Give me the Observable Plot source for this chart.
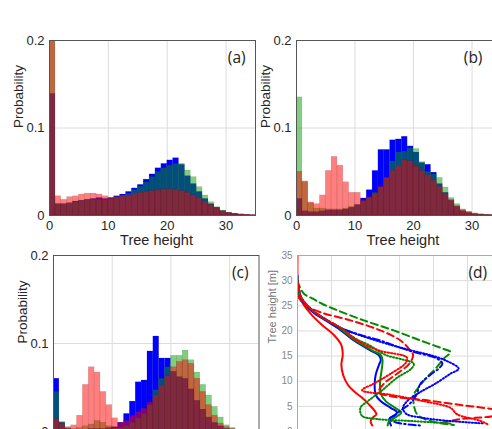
<!DOCTYPE html>
<html><head><meta charset="utf-8">
<script src="https://cdn.jsdelivr.net/npm/d3@7"></script>
<script src="https://cdn.jsdelivr.net/npm/@observablehq/plot@0.6"></script>
<style>
body{margin:0;background:#fff;}
#wrap{position:relative;width:492px;height:429px;overflow:hidden;background:#fff;}
.panel{position:absolute;}
</style></head><body><div id="wrap"></div>
<script>
// ---- histogram bins (tree height, 1 m bins starting at these values) ----
const binStarts = d3.range(0, 35);
const probTicks = [0, 0.1, 0.2];
const heightTicks = [0, 10, 20, 30];
const panelLabels = ["(a)", "(b)", "(c)", "(d)"];

const aBlue  = [0.139,0.013,0.013,0.014,0.016,0.017,0.018,0.019,0.020,0.019,0.020,0.022,0.024,0.027,0.031,0.035,0.041,0.047,0.054,0.059,0.063,0.0655,0.058,0.045,0.036,0.027,0.019,0.013,0.009,0.005,0.003,0.002,0.001,0.0006,0.0003];
const aGreen = [0.25,0.013,0.013,0.014,0.015,0.017,0.018,0.018,0.018,0.018,0.019,0.021,0.023,0.025,0.029,0.033,0.038,0.044,0.050,0.054,0.057,0.059,0.059,0.0514,0.0438,0.0324,0.0229,0.0152,0.0095,0.0057,0.003,0.002,0.001,0.0005,0.0003];
const aRed   = [0.25,0.022,0.018,0.021,0.022,0.024,0.025,0.025,0.024,0.022,0.020,0.021,0.022,0.023,0.025,0.026,0.027,0.028,0.029,0.030,0.030,0.0295,0.028,0.026,0.023,0.020,0.016,0.012,0.008,0.005,0.003,0.002,0.0015,0.001,0.0005];

const bBlue  = [0.019,0.005,0.004,0.004,0.005,0.006,0.006,0.006,0.007,0.009,0.012,0.0195,0.029,0.051,0.075,0.075,0.086,0.087,0.090,0.079,0.072,0.060,0.058,0.049,0.036,0.026,0.017,0.010,0.005,0.003,0.0015,0.001,0.0005,0.0003,0.0002];
const bGreen = [0.135,0.038,0.014,0.008,0.008,0.007,0.007,0.007,0.008,0.010,0.012,0.016,0.020,0.026,0.032,0.043,0.062,0.072,0.073,0.077,0.076,0.061,0.050,0.047,0.043,0.032,0.020,0.013,0.007,0.004,0.0025,0.0015,0.001,0.0005,0.0003];
const bRed   = [0.050,0.039,0.015,0.013,0.023,0.051,0.067,0.057,0.038,0.026,0.026,0.017,0.021,0.025,0.033,0.043,0.051,0.057,0.063,0.062,0.056,0.051,0.046,0.040,0.033,0.025,0.018,0.011,0.006,0.004,0.002,0.001,0.0007,0.0005,0.0003];

const cBlue  = [0.060,0.010,0.003,0.002,0.002,0.002,0.003,0.003,0.003,0.004,0.005,0.010,0.020,0.034,0.056,0.058,0.091,0.108,0.083,0.083,0.068,0.062,0.060,0.048,0.035,0.025,0.016,0.010,0.006,0.003,0.002,0.001,0.0005,0.0003,0.0002];
const cGreen = [0.045,0.011,0.005,0.003,0.004,0.006,0.008,0.012,0.010,0.006,0.004,0.004,0.006,0.010,0.015,0.020,0.030,0.047,0.060,0.073,0.086,0.086,0.092,0.081,0.067,0.053,0.041,0.028,0.016,0.007,0.004,0.002,0.001,0.0005,0.0003];
const cRed   = [0.014,0.008,0.004,0.007,0.018,0.053,0.073,0.067,0.045,0.030,0.015,0.010,0.012,0.018,0.022,0.026,0.033,0.041,0.052,0.063,0.073,0.079,0.081,0.077,0.060,0.045,0.030,0.018,0.009,0.005,0.003,0.002,0.001,0.0005,0.0003];

// ---- panel (d): profiles, [value, tree height m] ----
const profileHeightTicks = [0, 5, 10, 15, 20, 25, 30, 35];
const dRedSolid   = [[0,35],[0,30],[0.02,28],[0.08,26.5],[0.19,25.1],[0.43,23.1],[0.72,21.2],[1.07,19.2],[1.29,17.2],[1.33,15.2],[1.29,13.3],[1.34,11.3],[1.48,9.3],[1.66,8.0],[1.9,6.7],[2.1,5.4],[2.27,4.1],[2.32,3.4],[2.2,2.7],[2.15,2.0],[2.2,1.2]];
const dBlueSolid  = [[0,31],[0.03,28],[0.1,26.5],[0.25,25],[0.5,23.5],[0.85,22],[1.2,20.5],[1.66,18.1],[2.15,16.1],[2.39,15.2],[2.45,14.2],[2.4,13.3],[2.3,11.3],[2.27,9.3],[2.3,7.3],[2.45,6.0],[2.74,4.7],[2.93,3.8],[2.85,3.2],[2.7,2.5],[2.75,1.2]];
const dGreenSolid = [[0,30.5],[0.03,28],[0.1,26.5],[0.28,25],[0.55,23.5],[0.9,22],[1.25,20.5],[1.7,18.1],[2.2,16.1],[2.45,15.2],[2.5,14.2],[2.47,12],[2.43,10],[2.45,7.5],[2.6,6.0],[2.85,4.8],[3.05,3.8],[2.9,2.9],[2.7,2.1],[2.65,1.2]];
const dGreenDash  = [[0,30],[0.05,29],[0.19,27.4],[0.45,26.4],[0.72,25.4],[1.17,24.1],[1.95,22.1],[2.83,20.1],[3.62,18.1],[4.3,16.4],[4.5,15.8],[4.3,14.5],[4.06,12.5],[3.82,10.9],[3.62,9.3],[3.42,7.3],[3.42,5.4],[3.52,3.4],[3.9,2.1],[4.6,1.3]];
const dRedDash    = [[0,27],[0.1,26],[0.24,25.1],[0.68,23.7],[1.56,22.1],[2.44,20.1],[3.03,18.1],[3.32,16.1],[3.4,15.2],[3.28,13.4],[2.93,11.5],[2.54,9.5],[2.39,7.8],[2.75,7.0],[3.81,6.2],[4.89,5.2],[5.8,4.4],[6.3,3.9],[5.7,3.0],[4.7,2.4],[4.2,1.6]];
const dBlueDash   = [[0,30],[0.05,28],[0.12,26.5],[0.3,25],[0.55,23.5],[0.9,22],[1.3,20.5],[1.85,19.2],[2.44,18.1],[2.8,17.2],[3.42,15.8],[4.11,14.5],[4.26,13.5],[4.15,12.5],[3.91,11.3],[3.6,9.3],[3.5,7.3],[3.3,5.5],[3.1,4.5],[2.85,3.2],[2.7,2.5],[2.9,1.8],[3.6,1.2]];
const dBlueDot    = [[0,30],[0.05,28],[0.12,26.5],[0.3,25],[0.55,23.5],[0.9,22],[1.3,20.5],[1.9,19],[2.6,17.5],[3.3,16.2],[3.9,15.2],[4.4,14.0],[4.74,12.5],[4.5,11.5],[4.05,9.5],[3.6,7.8],[3.25,6.2],[3.1,4.7],[3.2,3.5],[3.6,2.8],[4.3,2.2],[5.48,1.6]];
const dGreenDot   = [[0,30],[0.05,28],[0.12,26.5],[0.3,25],[0.55,23.5],[0.9,22],[1.3,20.5],[1.7,18.5],[2.1,17.2],[2.6,15.2],[3.1,14.3],[3.42,13.5],[3.35,12.5],[2.93,10.7],[2.49,8.2],[2.1,6.2],[1.85,4.7],[1.9,3.1],[2.3,2.5],[3.3,2.1],[4.5,1.6]];
const dRedDot     = [[0,30],[0.05,28],[0.12,26.5],[0.3,25],[0.55,23.5],[0.9,22],[1.3,20.5],[1.75,18.1],[2.4,16.1],[3.22,14.7],[3.18,13.6],[2.74,11.5],[2.24,9.5],[1.9,8.2],[2.74,7.3],[3.72,6.0],[4.5,4.7],[4.7,3.4],[5.38,2.1],[5.6,1.4]];

const BLUE = "#0000ff", GREEN = "#00a000", RED = "#ff0000", LINEGREEN = "#008c00";
const FONT = "'Liberation Sans', Arial, sans-serif";
const LABELFONT = "'Open Sans', 'Noto Sans', sans-serif";
const wrap = document.getElementById("wrap");

function place(svg, left, top) {
  svg.classList.add("panel");
  svg.style.left = left + "px";
  svg.style.top = top + "px";
  wrap.appendChild(svg);
}

function histPanel(o) {
  const rows = binStarts.map((s, i) => ({x1: s, x2: s + 1, blue: o.blue[i], green: o.green[i], red: o.red[i]}));
  const edge = {stroke: "#000", strokeOpacity: 0.13, strokeWidth: 0.6};
  const xMarks = o.showX ? [
    Plot.axisX(heightTicks, {tickSize: 0, tickPadding: 5, label: null, fontSize: 13}),
    Plot.text(["Tree height"], {frameAnchor: "bottom", dy: 29, dx: 4, fontSize: 14.5, fill: "#262626"})
  ] : [];
  const svg = Plot.plot({
    width: o.width, height: o.height,
    marginLeft: o.ml, marginRight: o.mr, marginTop: o.mt, marginBottom: o.mb,
    x: {domain: [0, 35], axis: null},
    y: {domain: [0, 0.2], axis: null},
    style: {fontFamily: FONT, fontSize: "13px", color: "#262626", background: "transparent", overflow: "visible"},
    marks: [
      Plot.gridX([10, 20, 30], {stroke: "#dcdcdc", strokeOpacity: 1}),
      Plot.gridY([0.1], {stroke: "#dcdcdc", strokeOpacity: 1}),
      Plot.rectY(rows, {x1: "x1", x2: "x2", y: "blue", fill: BLUE, ...edge, clip: true}),
      Plot.rectY(rows, {x1: "x1", x2: "x2", y: "green", fill: GREEN, fillOpacity: 0.5, ...edge, clip: true}),
      Plot.rectY(rows, {x1: "x1", x2: "x2", y: "red", fill: RED, fillOpacity: 0.5, ...edge, clip: true}),
      Plot.frame({stroke: "#555", strokeWidth: 1}),
      ...xMarks,
      Plot.axisY(probTicks, {tickSize: 0, tickPadding: 5, label: null, fontSize: 13, tickFormat: d => d === 0 ? "0" : d.toFixed(1)}),
      Plot.text(["Probability"], {frameAnchor: "left", dx: o.ylabDx, rotate: -90, fontSize: 13.5, fill: "#262626"}),
      Plot.text([o.label], {x: o.labelX, frameAnchor: "top", dy: 11, textAnchor: "start", fontSize: 15.5, fontFamily: LABELFONT, fill: "#222"})
    ]
  });
  place(svg, o.left, o.top);
}

histPanel({blue: aBlue, green: aGreen, red: aRed, label: panelLabels[0], labelX: 30.3, showX: true,
  left: 0, top: 0, width: 262, height: 265, ml: 49, mr: 7, mt: 40, mb: 50, ylabDx: -31});
histPanel({blue: bBlue, green: bGreen, red: bRed, label: panelLabels[1], labelX: 28.6, showX: true,
  left: 250, top: 0, width: 260, height: 265, ml: 46, mr: 9.25, mt: 40, mb: 50, ylabDx: -31});
histPanel({blue: cBlue, green: cGreen, red: cRed, label: panelLabels[2], labelX: 30.4, showX: false,
  left: 0, top: 230, width: 266, height: 231, ml: 53, mr: 7.5, mt: 25, mb: 30, ylabDx: -31});

// panel (d)
{
  const lines = [
    {data: dRedSolid, stroke: RED, dash: null},
    {data: dBlueSolid, stroke: BLUE, dash: null},
    {data: dGreenSolid, stroke: LINEGREEN, dash: null},
    {data: dGreenDash, stroke: LINEGREEN, dash: "7,4"},
    {data: dRedDash, stroke: RED, dash: "7,4"},
    {data: dBlueDash, stroke: BLUE, dash: "7,3,1.5,3"},
    {data: dBlueDot, stroke: BLUE, dash: "1.2,2"},
    {data: dGreenDot, stroke: LINEGREEN, dash: "1.2,2"},
    {data: dRedDot, stroke: RED, dash: "1.2,2"}
  ];
  const svg = Plot.plot({
    width: 260, height: 231,
    marginLeft: 47, marginRight: 9, marginTop: 25, marginBottom: 30,
    x: {domain: [0, 6], axis: null},
    y: {domain: [0, 35], axis: null},
    style: {fontFamily: FONT, fontSize: "10px", color: "#777", background: "transparent", overflow: "visible"},
    marks: [
      Plot.gridX([1, 2, 3, 4, 5], {stroke: "#dcdcdc", strokeOpacity: 1}),
      Plot.gridY([5, 10, 15, 20, 25, 30], {stroke: "#dcdcdc", strokeOpacity: 1}),
      ...lines.map(l => Plot.line(l.data, {x: d => d[0], y: d => d[1], stroke: l.stroke, strokeWidth: 2, strokeDasharray: l.dash, curve: "catmull-rom", clip: true})),
      Plot.frame({stroke: "#aaa", strokeWidth: 1}),
      Plot.axisY(profileHeightTicks, {tickSize: 0, tickPadding: 5, label: null, fontSize: 10, fill: "#888"}),
      Plot.text(["Tree height [m]"], {frameAnchor: "left", dx: -25, rotate: -90, fontSize: 11, fill: "#777"}),
      Plot.text([panelLabels[3]], {x: 5.03, frameAnchor: "top", dy: 11, textAnchor: "start", fontSize: 15.5, fontFamily: LABELFONT, fill: "#222"})
    ]
  });
  place(svg, 250, 230);
}
</script></body></html>
